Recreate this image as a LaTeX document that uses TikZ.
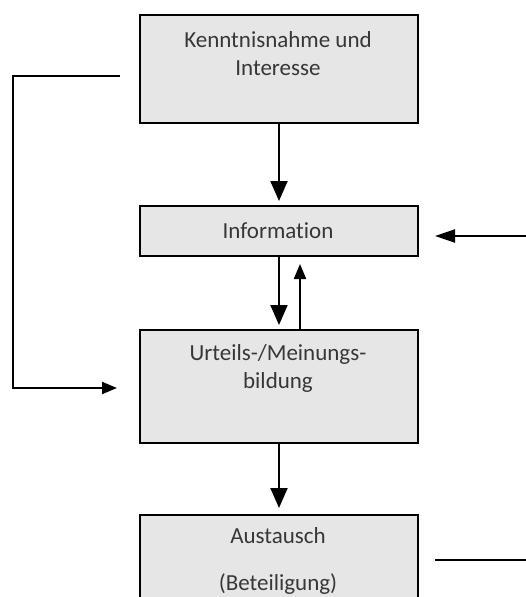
\documentclass[tikz,border=0pt]{standalone}
\usepackage{fontspec}
\setmainfont{Carlito}[Ligatures={NoCommon,NoRare}]
\usetikzlibrary{arrows.meta}
\definecolor{boxfill}{RGB}{230,230,230}
\definecolor{txt}{RGB}{55,55,55}
\begin{document}
\begin{tikzpicture}[x=1pt,y=-1pt,
  box/.style={draw=black,line width=2pt,fill=boxfill,inner sep=0pt,anchor=north west},
  lbl/.style={anchor=base,inner sep=0pt,text=txt,font=\fontsize{23}{28}\selectfont},
  bigarr/.style={line width=2pt,-{Triangle[length=20pt,width=17pt]}},
  smallarr/.style={line width=2pt,-{Triangle[length=15pt,width=12pt]}},
  plain/.style={line width=2pt}]
\useasboundingbox (0,0) rectangle (526,597);
\clip (0,0) rectangle (526,597);
% boxes
\node[box,minimum width=278pt,minimum height=108pt] (k) at (139,14) {};
\node[box,minimum width=278pt,minimum height=50pt] (i) at (139,205) {};
\node[box,minimum width=278pt,minimum height=113pt] (u) at (139,329) {};
\node[box,minimum width=278pt,minimum height=110pt] (a) at (139,514) {};
% labels
\node[lbl] (k1) at (278,47) {Kenntnisnahme und};
\node[lbl] (k2) at (278,75) {Interesse};
\node[lbl] (i1) at (278,238) {Information};
\node[lbl] (u1) at (278,360) {Urteils-/Meinungs-};
\node[lbl] (u2) at (278,388) {bildung};
\node[lbl] (a1) at (278,543) {Austausch};
\node[lbl] (a2) at (278,590) {(Beteiligung)};
% connectors
\draw[bigarr,shorten >=4pt] (k.south) -- (i.north);
\draw[bigarr,shorten >=4pt] (i.south) -- (u.north);
\draw[smallarr,shorten >=7pt] ([xshift=21pt]u.north) -- ([xshift=21pt]i.south);
\draw[bigarr,shorten >=6pt] (u.south) -- (a.north);
\coordinate (ls) at (120,76);
\coordinate (lc1) at (13,76);
\coordinate (lc2) at (13,388);
\coordinate (le) at (117,388);
\draw[smallarr,line join=miter] (ls) -- (lc1) -- (lc2) -- (le);
\coordinate (rs) at (527,236);
\coordinate (re) at (435,236);
\draw[line width=2pt,-{Triangle[length=20pt,width=13pt]}] (rs) -- (re);
\coordinate (bs) at (435,560);
\coordinate (be) at (527,560);
\draw[plain] (bs) -- (be);
\end{tikzpicture}
\end{document}
